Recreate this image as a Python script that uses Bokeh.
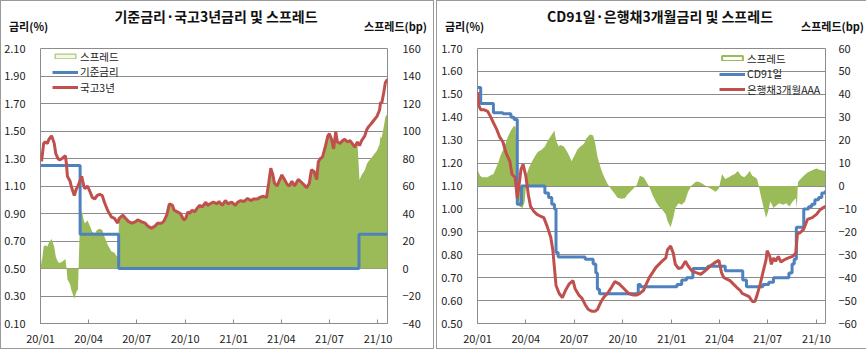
import numpy as np
import pandas as pd
from bokeh.plotting import figure
from bokeh.layouts import row, column
from bokeh.models import (Range1d, LinearAxis, FixedTicker, PrintfTickFormatter,
                          DatetimeTickFormatter, Legend, LegendItem, Div)
from bokeh.embed import file_html
from bokeh.resources import INLINE

# ---------------- data ----------------
TICK_DATES = ["2020-01-01", "2020-04-01", "2020-07-01", "2020-10-01",
              "2021-01-01", "2021-04-01", "2021-07-01", "2021-10-01"]
TICK_LABELS = ["20/01", "20/04", "20/07", "20/10", "21/01", "21/04", "21/07", "21/10"]

# Left chart: 기준금리 (step) and 국고3년
BASE_DATES = ["2020-01-01", "2020-03-16", "2020-05-28", "2021-08-26", "2021-10-19"]
BASE_RATE = [1.25, 0.75, 0.50, 0.75, 0.75]

KTB_DATES = [
    "2020-01-02", "2020-01-03", "2020-01-07", "2020-01-10", "2020-01-14", "2020-01-17", "2020-01-22",
    "2020-01-27", "2020-01-30", "2020-02-03", "2020-02-06", "2020-02-11", "2020-02-17", "2020-02-19",
    "2020-02-21", "2020-02-26", "2020-02-28", "2020-03-05", "2020-03-09", "2020-03-12", "2020-03-16",
    "2020-03-19", "2020-03-23", "2020-03-25", "2020-03-30", "2020-04-03", "2020-04-08", "2020-04-13",
    "2020-04-17", "2020-04-22", "2020-04-27", "2020-05-01", "2020-05-07", "2020-05-14", "2020-05-20",
    "2020-05-26", "2020-05-29", "2020-06-05", "2020-06-10", "2020-06-16", "2020-06-22", "2020-06-29",
    "2020-07-03", "2020-07-10", "2020-07-17", "2020-07-23", "2020-07-29", "2020-08-04", "2020-08-10",
    "2020-08-17", "2020-08-21", "2020-08-27", "2020-09-01", "2020-09-07", "2020-09-10", "2020-09-16",
    "2020-09-22", "2020-09-28", "2020-10-02", "2020-10-06", "2020-10-09", "2020-10-14", "2020-10-19",
    "2020-10-23", "2020-10-28", "2020-11-02", "2020-11-09", "2020-11-12", "2020-11-17", "2020-11-23",
    "2020-11-30", "2020-12-04", "2020-12-10", "2020-12-16", "2020-12-21", "2020-12-28", "2021-01-04",
    "2021-01-08", "2021-01-14", "2021-01-20", "2021-01-27", "2021-02-02", "2021-02-08", "2021-02-15",
    "2021-02-19", "2021-02-26", "2021-03-04", "2021-03-08", "2021-03-12", "2021-03-16", "2021-03-19",
    "2021-03-24", "2021-03-29", "2021-04-02", "2021-04-07", "2021-04-12", "2021-04-16", "2021-04-21",
    "2021-04-26", "2021-05-03", "2021-05-07", "2021-05-13", "2021-05-19", "2021-05-24", "2021-05-28",
    "2021-06-02", "2021-06-07", "2021-06-10", "2021-06-14", "2021-06-18", "2021-06-23", "2021-06-28",
    "2021-07-01", "2021-07-05", "2021-07-09", "2021-07-13", "2021-07-16", "2021-07-21", "2021-07-26",
    "2021-07-30", "2021-08-04", "2021-08-09", "2021-08-13", "2021-08-18", "2021-08-23", "2021-08-27",
    "2021-08-31", "2021-09-06", "2021-09-10", "2021-09-14", "2021-09-17", "2021-09-24", "2021-09-29",
    "2021-10-04", "2021-10-06", "2021-10-08", "2021-10-12", "2021-10-15", "2021-10-19"]
KTB_3Y = [
    1.335, 1.28, 1.41, 1.42, 1.41, 1.44, 1.465,
    1.41, 1.335, 1.30, 1.29, 1.30, 1.32, 1.265,
    1.17, 1.135, 1.10, 1.03, 1.08, 1.10, 1.14,
    1.17, 1.10, 1.08, 1.10, 1.065, 1.017, 1.006,
    1.03, 1.04, 1.03, 0.982, 0.924, 0.876, 0.865,
    0.83, 0.865, 0.888, 0.865, 0.841, 0.83, 0.841,
    0.853, 0.841, 0.83, 0.806, 0.794, 0.806, 0.83,
    0.83, 0.841, 0.888, 0.971, 0.959, 0.924, 0.912,
    0.90, 0.853, 0.865, 0.912, 0.90, 0.924, 0.912,
    0.935, 0.959, 0.947, 0.982, 0.959, 0.971, 0.982,
    0.971, 0.987, 0.959, 0.994, 0.971, 0.982, 0.959,
    0.982, 0.994, 0.987, 1.01, 0.994, 1.006, 1.006,
    1.017, 1.025, 1.017, 1.12, 1.23, 1.18, 1.12,
    1.10, 1.147, 1.18, 1.147, 1.112, 1.10, 1.135,
    1.10, 1.147, 1.135, 1.112, 1.088, 1.12, 1.218,
    1.206, 1.147, 1.276, 1.30, 1.312, 1.382, 1.465,
    1.48, 1.44, 1.37, 1.495, 1.42, 1.41, 1.43,
    1.44, 1.42, 1.43, 1.41, 1.382, 1.42, 1.394,
    1.43, 1.465, 1.512, 1.535, 1.547, 1.582, 1.606,
    1.653, 1.712, 1.70, 1.782, 1.853, 1.876]

# Right chart: CD91일 (step), 은행채3개월AAA, 스프레드(bp)
CD_DATES = [
    "2020-01-01", "2020-01-07", "2020-01-31", "2020-02-18", "2020-03-04", "2020-03-10", "2020-03-16",
    "2020-03-24", "2020-05-07", "2020-05-14", "2020-05-20", "2020-05-25", "2020-05-28", "2020-06-01",
    "2020-07-22", "2020-08-06", "2020-08-11", "2020-08-14", "2020-08-18", "2020-10-30", "2020-11-03",
    "2021-01-11", "2021-01-20", "2021-01-29", "2021-02-10", "2021-03-10", "2021-04-12", "2021-05-15",
    "2021-05-22", "2021-06-22", "2021-07-03", "2021-07-12", "2021-08-10", "2021-08-16", "2021-08-20",
    "2021-08-24", "2021-09-07", "2021-09-16", "2021-09-22", "2021-09-28", "2021-10-05", "2021-10-11",
    "2021-10-18"]
CD91 = [
    1.53, 1.46, 1.42, 1.415, 1.40, 1.39, 1.02,
    1.10, 1.07, 1.05, 1.02, 1.00, 0.81, 0.79,
    0.78, 0.76, 0.72, 0.65, 0.63, 0.67, 0.66,
    0.67, 0.69, 0.70, 0.74, 0.75, 0.73, 0.69,
    0.66, 0.67, 0.68, 0.70, 0.72, 0.76, 0.78,
    0.92, 1.00, 1.01, 1.02, 1.04, 1.05, 1.07,
    1.08]

BANK_DATES = [
    "2020-01-02", "2020-01-03", "2020-01-07", "2020-01-13", "2020-01-20", "2020-01-24", "2020-01-31",
    "2020-02-06", "2020-02-12", "2020-02-18", "2020-02-24", "2020-03-02", "2020-03-06", "2020-03-12",
    "2020-03-16", "2020-03-20", "2020-03-23", "2020-03-27", "2020-04-01", "2020-04-06", "2020-04-10",
    "2020-04-16", "2020-04-22", "2020-04-28", "2020-05-05", "2020-05-11", "2020-05-18", "2020-05-22",
    "2020-05-28", "2020-06-03", "2020-06-09", "2020-06-15", "2020-06-22", "2020-06-29", "2020-07-03",
    "2020-07-10", "2020-07-16", "2020-07-22", "2020-07-28", "2020-08-03", "2020-08-10", "2020-08-14",
    "2020-08-21", "2020-08-27", "2020-09-02", "2020-09-08", "2020-09-16", "2020-09-24", "2020-09-30",
    "2020-10-06", "2020-10-12", "2020-10-21", "2020-10-27", "2020-11-02", "2020-11-09", "2020-11-13",
    "2020-11-20", "2020-11-26", "2020-12-02", "2020-12-08", "2020-12-14", "2020-12-21", "2020-12-24",
    "2020-12-30", "2021-01-04", "2021-01-08", "2021-01-14", "2021-01-20", "2021-01-27", "2021-02-01",
    "2021-02-08", "2021-02-16", "2021-02-25", "2021-03-05", "2021-03-15", "2021-03-25", "2021-03-31",
    "2021-04-05", "2021-04-09", "2021-04-15", "2021-04-21", "2021-04-27", "2021-05-03", "2021-05-10",
    "2021-05-14", "2021-05-21", "2021-05-27", "2021-06-02", "2021-06-07", "2021-06-11", "2021-06-17",
    "2021-06-22", "2021-06-28", "2021-06-30", "2021-07-05", "2021-07-08", "2021-07-12", "2021-07-16",
    "2021-07-21", "2021-07-26", "2021-08-02", "2021-08-09", "2021-08-17", "2021-08-23", "2021-08-26",
    "2021-09-01", "2021-09-07", "2021-09-14", "2021-09-23", "2021-10-01", "2021-10-08", "2021-10-18"]
BANK_3M = [
    1.51, 1.454, 1.433, 1.433, 1.426, 1.41, 1.376,
    1.348, 1.313, 1.292, 1.243, 1.208, 1.151, 1.137,
    1.046, 1.116, 1.173, 1.194, 1.144, 1.06, 1.011,
    0.99, 0.976, 0.969, 0.962, 0.926, 0.877, 0.821,
    0.666, 0.631, 0.613, 0.645, 0.673, 0.687, 0.652,
    0.624, 0.61, 0.582, 0.561, 0.554, 0.554, 0.561,
    0.596, 0.617, 0.631, 0.652, 0.683, 0.673, 0.659,
    0.645, 0.631, 0.624, 0.624, 0.631, 0.645, 0.666,
    0.701, 0.722, 0.744, 0.758, 0.772, 0.786, 0.821,
    0.838, 0.807, 0.758, 0.74, 0.744, 0.772, 0.751,
    0.73, 0.722, 0.715, 0.73, 0.751, 0.768, 0.776,
    0.722, 0.701, 0.694, 0.687, 0.673, 0.659, 0.645,
    0.631, 0.624, 0.617, 0.596, 0.596, 0.624, 0.673,
    0.722, 0.779, 0.818, 0.793, 0.758, 0.786, 0.772,
    0.793, 0.768, 0.779, 0.786, 0.793, 0.807, 0.891,
    0.898, 0.912, 0.954, 0.962, 0.976, 0.997, 1.011]

SPREAD_DATES = [
    "2020-01-02", "2020-01-06", "2020-01-10", "2020-01-20", "2020-01-24", "2020-01-31", "2020-02-04",
    "2020-02-10", "2020-02-14", "2020-02-21", "2020-02-27", "2020-03-04", "2020-03-10", "2020-03-13",
    "2020-03-16", "2020-03-17", "2020-03-20", "2020-03-26", "2020-03-30", "2020-04-01", "2020-04-03",
    "2020-04-07", "2020-04-13", "2020-04-20", "2020-04-24", "2020-05-01", "2020-05-07", "2020-05-13",
    "2020-05-19", "2020-05-25", "2020-05-28", "2020-06-02", "2020-06-05", "2020-06-12", "2020-06-18",
    "2020-06-24", "2020-06-26", "2020-07-01", "2020-07-07", "2020-07-13", "2020-07-20", "2020-07-24",
    "2020-07-31", "2020-08-06", "2020-08-10", "2020-08-14", "2020-08-21", "2020-08-27", "2020-09-02",
    "2020-09-08", "2020-09-15", "2020-09-21", "2020-09-28", "2020-10-05", "2020-10-09", "2020-10-15",
    "2020-10-21", "2020-10-27", "2020-11-02", "2020-11-09", "2020-11-13", "2020-11-20", "2020-11-26",
    "2020-12-02", "2020-12-08", "2020-12-14", "2020-12-21", "2020-12-24", "2020-12-30", "2021-01-04",
    "2021-01-08", "2021-01-14", "2021-01-20", "2021-01-26", "2021-02-01", "2021-02-08", "2021-02-15",
    "2021-02-19", "2021-02-25", "2021-03-03", "2021-03-09", "2021-03-15", "2021-03-25", "2021-03-31",
    "2021-04-06", "2021-04-12", "2021-04-19", "2021-04-23", "2021-04-30", "2021-05-06", "2021-05-12",
    "2021-05-18", "2021-05-24", "2021-05-28", "2021-06-02", "2021-06-07", "2021-06-11", "2021-06-14",
    "2021-06-17", "2021-06-22", "2021-06-28", "2021-07-02", "2021-07-06", "2021-07-12", "2021-07-19",
    "2021-07-23", "2021-07-30", "2021-08-05", "2021-08-11", "2021-08-17", "2021-08-23", "2021-08-25",
    "2021-08-27", "2021-09-01", "2021-09-07", "2021-09-14", "2021-09-20", "2021-09-27", "2021-10-01",
    "2021-10-08", "2021-10-18"]
SPREAD_BP = [
    6.6, 4.5, 3.8, 3.8, 4.5, 5.2, 7.3,
    10.8, 13.6, 17.2, 21.4, 24.2, 26.3, 25.6,
    -1.1, -5.3, -8.9, -9.6, -6.8, -1.1, 5.2,
    8.0, 10.8, 13.6, 15.0, 15.8, 17.2, 20.0,
    22.0, 24.2, 20.0, 17.2, 17.9, 17.2, 15.0,
    12.2, 10.8, 12.9, 15.8, 17.2, 18.6, 20.7,
    22.5, 22.0, 18.6, 12.9, 7.3, 3.8, 1.0,
    -1.1, -3.2, -5.1, -5.6, -5.3, -3.9, -2.5,
    -1.1, 0.3, 4.5, 3.8, 2.4, -0.4, -3.9,
    -6.8, -8.9, -10.3, -12.4, -15.2, -18.0, -13.8,
    -9.6, -7.5, -8.2, -6.8, -2.5, 0.3, 1.7,
    2.0, 1.4, 0.6, -0.4, -1.1, -2.5, -1.1,
    5.2, 3.1, 3.8, 4.5, 5.2, 6.6, 4.5,
    3.8, 5.2, 6.6, 4.5, 3.8, 3.1, 0.3,
    -3.2, -8.2, -13.8, -11.0, -6.8, -9.6, -8.2,
    -7.5, -8.2, -7.5, -8.9, -6.8, -5.3, -9.6,
    1.7, 3.1, 4.5, 5.9, 6.6, 7.3, 7.6,
    7.0, 6.6]

# ---------------- styling ----------------
FONT = "Noto Sans CJK KR"
GREEN = "#9BBB59"
BLUE = "#4F81BD"
RED = "#C0504D"
GRID = "#8c8c8c"
W = 422          # inner panel width
HEAD = 28        # header (title) height
FIG_H = 309      # figure height
TOP, BOTTOM = 9, 24
FH = FIG_H - TOP - BOTTOM
LEG_H = 15       # approx. height of one legend row

tick_ms = [pd.Timestamp(d).value / 1e6 for d in TICK_DATES]
overrides = {t: lab for t, lab in zip(tick_ms, TICK_LABELS)}


def base_fig(x_end, y0, y1, left_ticks, mb_left, mb_right):
    p = figure(width=W, height=FIG_H, x_axis_type="datetime", output_backend="svg",
               toolbar_location=None,
               x_range=Range1d(pd.Timestamp("2020-01-01"), pd.Timestamp(x_end)),
               y_range=Range1d(y0, y1),
               min_border_left=mb_left, min_border_right=mb_right,
               min_border_top=TOP, min_border_bottom=BOTTOM)
    p.background_fill_color = "white"
    p.border_fill_color = "white"
    p.outline_line_color = GRID
    p.outline_line_width = 1
    p.xgrid.grid_line_color = None
    p.ygrid.ticker = FixedTicker(ticks=left_ticks)
    p.ygrid.grid_line_color = GRID
    p.ygrid.grid_line_width = 1

    xa = p.xaxis[0]
    xa.ticker = FixedTicker(ticks=tick_ms)
    xa.formatter = DatetimeTickFormatter(days="%y/%m", months="%y/%m", years="%y/%m")
    xa.major_label_overrides = overrides
    xa.axis_line_color = GRID
    xa.major_tick_line_color = GRID
    xa.major_tick_in = 4
    xa.major_tick_out = 0
    xa.minor_tick_line_color = None
    xa.major_label_standoff = 6
    xa.major_label_text_font = FONT
    xa.major_label_text_font_size = "11px"
    xa.major_label_text_color = "#222222"

    ya = p.yaxis[0]
    ya.ticker = FixedTicker(ticks=left_ticks)
    ya.formatter = PrintfTickFormatter(format="%.2f")
    ya.axis_line_color = None
    ya.major_tick_line_color = None
    ya.minor_tick_line_color = None
    ya.major_label_standoff = 9
    ya.major_label_text_font = FONT
    ya.major_label_text_font_size = "11px"
    ya.major_label_text_color = "#222222"
    return p


def right_axis(p, r0, r1, ticks, standoff):
    p.extra_y_ranges = {"sp": Range1d(r0, r1)}
    ax = LinearAxis(y_range_name="sp", ticker=FixedTicker(ticks=ticks))
    ax.axis_line_color = None
    ax.major_tick_line_color = None
    ax.minor_tick_line_color = None
    ax.major_label_standoff = standoff
    ax.major_label_text_font = FONT
    ax.major_label_text_font_size = "11px"
    ax.major_label_text_color = "#222222"
    p.add_layout(ax, "right")


def header(title, left_txt, right_txt, cx, right_pad):
    html = (
        f'<div style="position:relative;width:{W}px;height:{HEAD}px;'
        f"font-family:'{FONT}',sans-serif;color:#111;\">"
        f'<div style="position:absolute;left:{cx - 200:.0f}px;width:400px;top:0px;text-align:center;'
        f'font-size:14px;font-weight:bold;line-height:20px;white-space:nowrap;">{title}</div>'
        f'<div style="position:absolute;left:3px;top:13px;font-size:11px;font-weight:bold;'
        f'line-height:14px;white-space:nowrap;">{left_txt}</div>'
        f'<div style="position:absolute;right:{right_pad}px;top:13px;font-size:11px;font-weight:bold;'
        f'line-height:14px;white-space:nowrap;">{right_txt}</div></div>')
    return Div(text=html, width=W, height=HEAD)


def legend_rows(p, entries, x, centers):
    # one single-row legend per entry, so that the row pitch follows the reference
    for (label, rend), c in zip(entries, centers):
        lg = Legend(items=[LegendItem(label=label, renderers=[rend])],
                    location=(x, FH - c - LEG_H / 2), border_line_color=None,
                    background_fill_alpha=0, label_text_font=FONT, label_text_font_size="10.5px",
                    label_text_color="#222222", glyph_width=26, glyph_height=6,
                    label_height=10, label_standoff=2, spacing=0, padding=0, margin=0)
        p.add_layout(lg)


def swatch(p, line_w, fill):
    # legend-only glyph (a single empty row, nothing is drawn in the plot)
    nan = float("nan")
    return p.quad(left=[nan], right=[nan], top=[nan], bottom=[nan],
                  fill_color=fill, line_color=GREEN, line_width=line_w)


PANEL_STYLE = {"border": "1px solid #9a9a9a", "background-color": "white"}

# ---------------- left chart ----------------
L_LEFT, L_RIGHT = 31, 36
lp = base_fig("2021-10-19", 0.10, 2.10, [0.10, 0.30, 0.50, 0.70, 0.90, 1.10, 1.30, 1.50, 1.70, 1.90, 2.10],
              L_LEFT, L_RIGHT)
right_axis(lp, -40, 160, [-40, -20, 0, 20, 40, 60, 80, 100, 120, 140, 160], 9)

kd = pd.to_datetime(KTB_DATES)
bd = pd.to_datetime(BASE_DATES)
idx = np.searchsorted(bd.values, kd.values, side="right") - 1
spread_left = (np.array(KTB_3Y) - np.array(BASE_RATE)[idx]) * 100

lp.varea(x=kd, y1=0, y2=spread_left, y_range_name="sp", fill_color=GREEN, fill_alpha=1)
r_base = lp.step(x=bd, y=BASE_RATE, mode="after", line_color=BLUE, line_width=3)
r_ktb = lp.line(x=kd, y=KTB_3Y, line_color=RED, line_width=3)
sw_l = swatch(lp, 1, "#f4f8ec")
legend_rows(lp, [("스프레드", sw_l), ("기준금리", r_base), ("국고3년", r_ktb)], 12, [9, 24.5, 40])
fw_l = W - L_LEFT - L_RIGHT
head_l = header("기준금리·국고3년금리 및 스프레드", "금리(%)", "스프레드(bp)", L_LEFT + fw_l / 2 + 2, 1)
panel_l = column(head_l, lp, spacing=0, styles=PANEL_STYLE)

# ---------------- right chart ----------------
R_LEFT, R_RIGHT = 40, 26
rp = base_fig("2021-10-18", 0.50, 1.70, [0.50, 0.60, 0.70, 0.80, 0.90, 1.00, 1.10, 1.20, 1.30, 1.40, 1.50, 1.60, 1.70],
              R_LEFT, R_RIGHT)
right_axis(rp, -60, 60, [-60, -50, -40, -30, -20, -10, 0, 10, 20, 30, 40, 50, 60], 7)

rp.varea(x=pd.to_datetime(SPREAD_DATES), y1=0, y2=SPREAD_BP, y_range_name="sp", fill_color=GREEN, fill_alpha=1)
r_cd = rp.step(x=pd.to_datetime(CD_DATES), y=CD91, mode="after", line_color=BLUE, line_width=3)
r_bank = rp.line(x=pd.to_datetime(BANK_DATES), y=BANK_3M, line_color=RED, line_width=3)
sw_r = swatch(rp, 2, "white")
legend_rows(rp, [("스프레드", sw_r), ("CD91일", r_cd), ("은행채3개월AAA", r_bank)], 242, [11, 26.5, 42])
fw_r = W - R_LEFT - R_RIGHT
head_r = header("CD91일·은행채3개월금리 및 스프레드", "금리(%)", "스프레드(bp)", R_LEFT + fw_r / 2, 0)
panel_r = column(head_r, rp, spacing=0, styles=PANEL_STYLE)

layout = row(panel_l, panel_r, spacing=2)
open("out.html", "w").write(file_html(layout, INLINE))
